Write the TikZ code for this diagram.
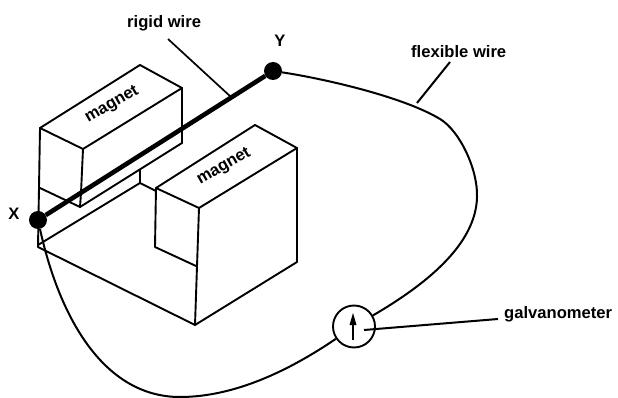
\documentclass[tikz,border=0pt]{standalone}
\usepackage{fontspec}
\setmainfont{Liberation Sans}
\begin{document}
\begin{tikzpicture}[x=1pt,y=-1pt,
  edge/.style={line width=1.9pt,line cap=round,line join=round},
  wirethin/.style={line width=2pt},
  leader/.style={line width=1.7pt},
  lab/.style={font=\fontsize{16.6}{18}\selectfont\bfseries,inner sep=0pt},
  mag/.style={font=\fontsize{16.6}{18}\selectfont\bfseries,inner sep=0pt,rotate=30},
  dot/.style={circle,fill=black,minimum size=18pt,inner sep=0pt}]
\useasboundingbox (0,0) rectangle (618,398);
% upper magnet
\draw[edge] (40,128)--(140,65)--(182,88)--(83,149)--cycle;
\draw[edge] (83,149)--(81,193);
\draw[edge] (182,88)--(182,143)--(80,207)--(40,188);
\draw[edge] (80,207)--(81,193);
\draw[edge] (40,128)--(38,247);
% base
\draw[edge] (38,245)--(140,183)--(140,170);
\draw[edge] (140,183)--(156,191);
\draw[edge] (38,247)--(195,325)--(297,262)--(297,148);
% lower magnet
\draw[edge] (156,188)--(255,125)--(297,148)--(199,208)--cycle;
\draw[edge] (156,188)--(155,247)--(196,266);
\draw[edge] (199,208)--(195,325);
% labels on magnets
\node[mag] (m1) at (112,105) {magnet};
\node[mag] (m2) at (224,167) {magnet};
% terminals and meter
\node[dot] (X) at (38,220) {};
\node[dot] (Y) at (273,71) {};
\node[circle,draw,line width=1.9pt,minimum size=42pt,inner sep=0pt] (G) at (354,326.5) {};
\draw[line width=4.6pt] (X)--(Y);
% flexible wire
\draw[wirethin] (Y) .. controls (320,78) and (402,96) .. (440,119)
  .. controls (460,131) and (478,170) .. (477,197)
  .. controls (476,245) and (425,285) .. (G);
\draw[wirethin] (G) .. controls (290,370) and (235,397) .. (180,397)
  .. controls (105,397) and (60,320) .. (X);
% meter needle
\coordinate (n1) at (353,340);
\coordinate (n2) at (353,313);
\draw[line width=1.8pt] (n1)--(353,322);
\fill (n2)--(349.5,325)--(356.5,325)--cycle;
% labels and leaders
\node[lab,anchor=west] (lr) at (127,23) {rigid wire};
\node[lab,anchor=west] (lf) at (411,52) {flexible wire};
\node[lab,anchor=west] (lg) at (504,314) {galvanometer};
\node[lab] (lx) at (14,214) {X};
\node[lab] (ly) at (280,41) {Y};
\coordinate (r0) at (168,39);
\coordinate (r1) at (231,97);
\coordinate (f0) at (450,62);
\coordinate (f1) at (417,103);
\coordinate (g0) at (498,319);
\coordinate (g1) at (364,330);
\draw[leader] (r0)--(r1);
\draw[line width=2pt] (f0)--(f1);
\draw[line width=2pt] (g0)--(g1);
\end{tikzpicture}
\end{document}
